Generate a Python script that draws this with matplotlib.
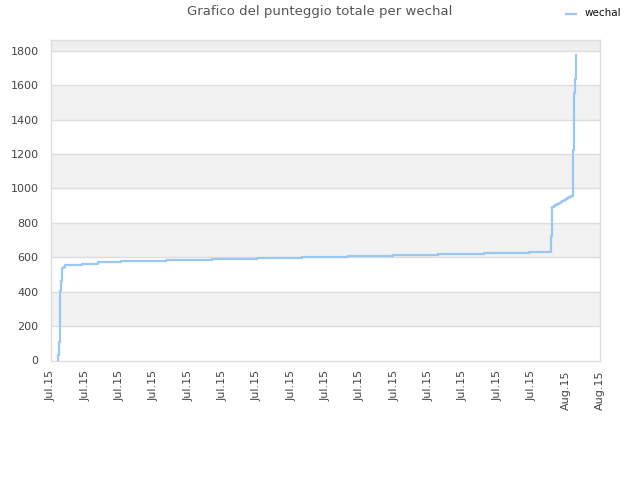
import matplotlib
matplotlib.use("Agg")
import matplotlib.pyplot as plt
from matplotlib.lines import Line2D

# Data (x in tick units, score values)
times = [0.19, 0.195, 0.224, 0.257, 0.287, 0.316, 0.37, 0.40, 0.894, 1.38, 2.04,
         3.35, 4.69, 6.01, 7.32, 8.66, 9.97, 11.28, 12.62, 13.94, 14.585, 14.595,
         14.65, 14.70, 14.75, 14.80, 14.85, 14.90, 14.95, 15.00, 15.05, 15.10,
         15.15, 15.20, 15.215, 15.23, 15.26, 15.29, 15.31]
scores = [5, 33, 105, 401, 459, 537, 546, 557, 563, 573, 580,
          586, 592, 598, 603, 609, 615, 621, 627, 633, 726, 894,
          900, 905, 911, 916, 922, 927, 933, 939, 944, 950,
          956, 962, 1224, 1553, 1634, 1688, 1775]
tick_labels = ["Jul.15"] * 15 + ["Aug.15"] * 2
y_ticks = [0, 200, 400, 600, 800, 1000, 1200, 1400, 1600, 1800]
series_name = "wechal"
title = "Grafico del punteggio totale per wechal"

plt.rcParams['font.family'] = ['DejaVu Sans']

fig = plt.figure(figsize=(6.4, 4.8), dpi=100)
ax = fig.add_axes([51/640, 1 - 360.5/480, (600 - 51)/640, (360.5 - 40)/480])

ymax = 1862
ax.set_ylim(0, ymax)
ax.set_xlim(0, len(tick_labels) - 1)

# alternating bands
band_edges = y_ticks + [ymax]
for i in range(len(band_edges) - 1):
    lo, hi = band_edges[i], band_edges[i + 1]
    if i % 2 == 1:
        ax.axhspan(lo, hi, color='#f2f2f2', zorder=0, lw=0)
ax.axhspan(1800, ymax, color='#eeeeee', zorder=0, lw=0)
for yv in y_ticks[1:]:
    ax.axhline(yv, color='#dddddd', lw=1, zorder=1)

ax.plot(times, scores, drawstyle='steps-post', color='#99c8f5', lw=1.6, zorder=3)

ax.set_yticks(y_ticks)
ax.set_yticklabels([str(v) for v in y_ticks], fontsize=8, color='#444444')
ax.set_xticks(range(len(tick_labels)))
ax.set_xticklabels(tick_labels, rotation=90, fontsize=8, color='#444444')
ax.tick_params(axis='both', length=0)
ax.tick_params(axis='y', pad=9)
ax.tick_params(axis='x', pad=7)
for s in ax.spines.values():
    s.set_color('#dddddd')
    s.set_linewidth(1)

fig.text(0.5, 1 - 12/480, title, ha='center', va='center', fontsize=9.5, color='#555555')

# legend
fig.add_artist(Line2D([566/640, 576/640], [1 - 13.5/480, 1 - 13.5/480], color='#99c8f5', lw=1.6))
fig.text(585/640, 1 - 13/480, series_name, ha='left', va='center', fontsize=7.5, color='#111111')

fig.savefig("out.png", dpi=100)
